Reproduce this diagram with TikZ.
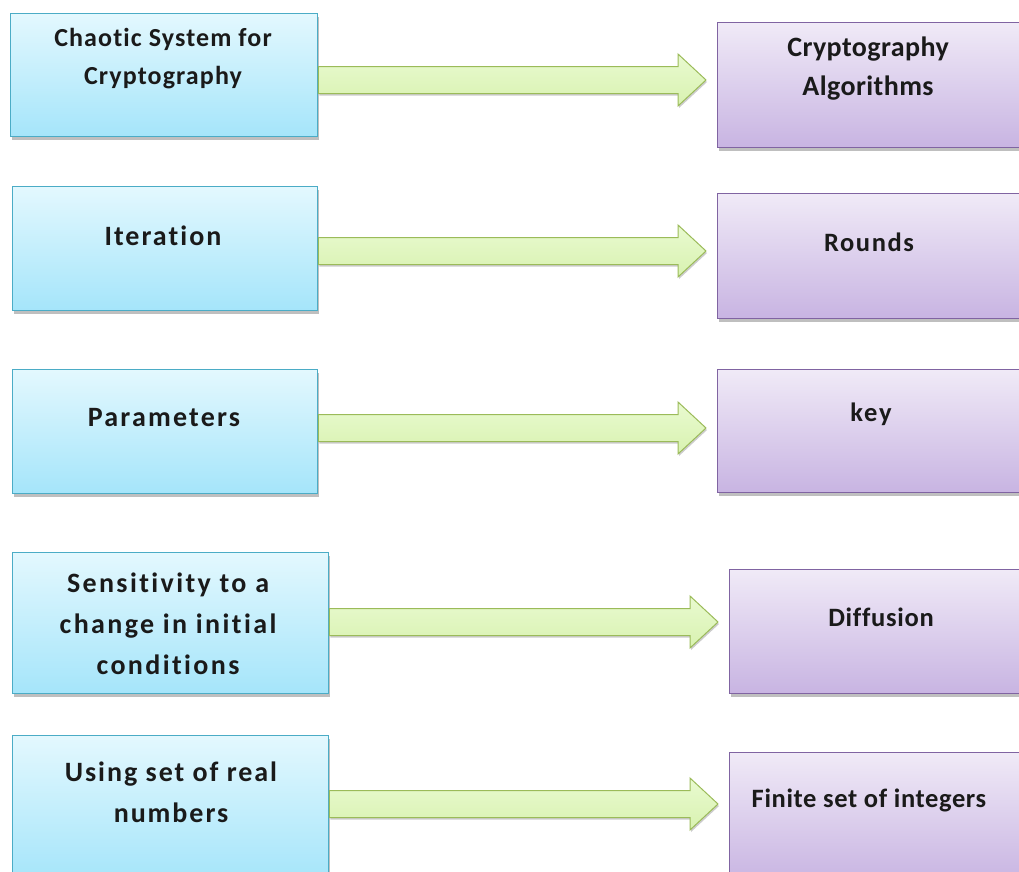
\documentclass[tikz,border=0pt]{standalone}
\usepackage{fontspec}
\setmainfont{Carlito}[Ligatures=NoCommon]
\usetikzlibrary{calc,shadows}

\definecolor{cyanTop}{HTML}{E3F8FE}
\definecolor{cyanBot}{HTML}{A5E5FA}
\definecolor{cyanEdge}{HTML}{4BACC6}
\definecolor{lilacTop}{HTML}{F0EAF7}
\definecolor{lilacBot}{HTML}{C8B4E2}
\definecolor{lilacEdge}{HTML}{8064A2}
\definecolor{greenTop}{HTML}{E9FAD0}
\definecolor{greenBot}{HTML}{D8F2B0}
\definecolor{greenEdge}{HTML}{9BBB59}
\definecolor{ink}{HTML}{1A1A1A}

\tikzset{
  boxbase/.style={draw, line width=1.3pt, inner sep=0pt,
    drop shadow={shadow xshift=1.5pt, shadow yshift=-3pt, opacity=.25, fill=black}},
  srcbox/.style={boxbase, draw=cyanEdge, top color=cyanTop, bottom color=cyanBot},
  dstbox/.style={boxbase, draw=lilacEdge, top color=lilacTop, bottom color=lilacBot},
  % caption={font size}{letter spacing}{line distance}
  caption/.style n args={3}{
    font=\bfseries\fontsize{#1}{#3}\selectfont\addfontfeature{LetterSpace=#2},
    text=ink, align=center, inner sep=0pt},
  flowarrow/.style={draw=greenEdge, line width=1pt, line join=miter,
    top color=greenTop, bottom color=greenBot,
    drop shadow={shadow xshift=1pt, shadow yshift=-2pt, opacity=.2, fill=black}}
}

% block arrow from the east side of #1 towards the west side of #2, centred on row #3
\newcommand{\blockarrow}[3]{%
  \path[flowarrow] let \p1=(#1.east |- 0,#3), \p2=(#2.west |- 0,#3) in
    (\x1,\y1+13.5pt) -- (\x2-39pt,\y1+13.5pt) -- (\x2-39pt,\y1+26pt)
    -- (\x2-11pt,\y1) -- (\x2-39pt,\y1-26pt) -- (\x2-39pt,\y1-13.5pt)
    -- (\x1,\y1-13.5pt) -- cycle;}

\begin{document}
\begin{tikzpicture}[x=1pt,y=-1pt]
  \useasboundingbox (0,0) rectangle (1019,871);

  % left column
  \node[srcbox, anchor=north west, minimum width=307, minimum height=123] (l1) at (10,13) {};
  \node[srcbox, anchor=north west, minimum width=305, minimum height=124] (l2) at (12,186) {};
  \node[srcbox, anchor=north west, minimum width=305, minimum height=124] (l3) at (12,369) {};
  \node[srcbox, anchor=north west, minimum width=316, minimum height=141] (l4) at (12,552) {};
  \node[srcbox, anchor=north west, minimum width=316, minimum height=145] (l5) at (12,735) {};

  % right column
  \node[dstbox, anchor=north west, minimum width=310, minimum height=125] (r1) at (717,22) {};
  \node[dstbox, anchor=north west, minimum width=310, minimum height=125] (r2) at (717,193) {};
  \node[dstbox, anchor=north west, minimum width=310, minimum height=123] (r3) at (717,369) {};
  \node[dstbox, anchor=north west, minimum width=298, minimum height=124] (r4) at (729,569) {};
  \node[dstbox, anchor=north west, minimum width=298, minimum height=130] (r5) at (729,752) {};

  % captions
  \node[caption={26}{4.3}{38}] (t1) at (163,59) {Chaotic System for\\Cryptography};
  \node[caption={28}{7.3}{38}] (t2) at (163,236) {Iteration};
  \node[caption={28}{8}{38}] (t3) at (164,418) {Parameters};
  \node[caption={28}{8.5}{41}] (t4) at (168,624) {Sensitivity to a\\change in initial\\conditions};
  \node[caption={28}{7}{41}] (t5) at (171,792) {Using set of real\\numbers};

  \node[caption={28}{1.5}{39}] (s1) at (868,69) {Cryptography\\Algorithms};
  \node[caption={26.5}{6}{38}] (s2) at (869,242) {Rounds};
  \node[caption={26.5}{7}{38}] (s3) at (871,414) {key};
  \node[caption={26.5}{2.7}{38}] (s4) at (881,617) {Diffusion};
  \node[caption={26.5}{2.4}{38}] (s5) at (869,800) {Finite set of integers};

  % mapping arrows
  \blockarrow{l1}{r1}{80}
  \blockarrow{l2}{r2}{251}
  \blockarrow{l3}{r3}{428}
  \blockarrow{l4}{r4}{622}
  \blockarrow{l5}{r5}{804}
\end{tikzpicture}
\end{document}
